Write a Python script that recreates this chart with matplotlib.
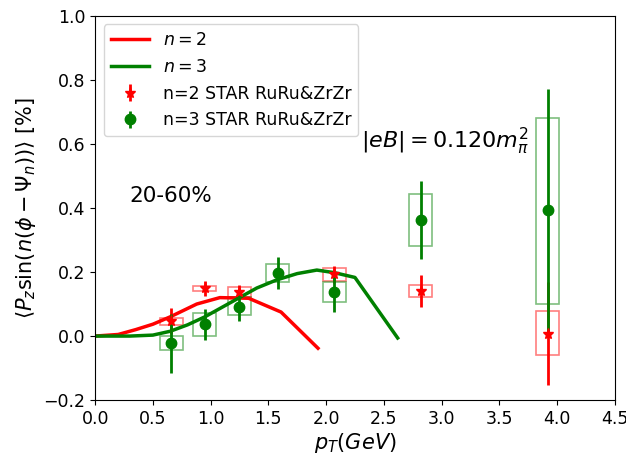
import matplotlib
matplotlib.use("Agg")
import matplotlib.pyplot as plt
from matplotlib.patches import Rectangle

# Model curves
n2_x = [0.0, 0.2, 0.35, 0.5, 0.65, 0.88, 1.08, 1.33, 1.61, 1.93]
n2_y = [0.0, 0.005, 0.02, 0.037, 0.06, 0.10, 0.12, 0.118, 0.075, -0.038]
n3_x = [0.0, 0.3, 0.5, 0.65, 0.8, 0.95, 1.1, 1.25, 1.4, 1.57, 1.75, 1.92, 2.07, 2.25, 2.62]
n3_y = [0.0, 0.0, 0.003, 0.015, 0.035, 0.06, 0.09, 0.12, 0.15, 0.175, 0.195, 0.206, 0.198, 0.183, -0.006]

# STAR data n=2
d2_x = [0.66, 0.95, 1.25, 2.07, 2.82, 3.92]
d2_y = [0.047, 0.149, 0.138, 0.193, 0.141, 0.008]
d2_err = [0.04, 0.023, 0.022, 0.026, 0.051, 0.16]
d2_sys_lo = [0.034, 0.142, 0.123, 0.173, 0.123, -0.060]
d2_sys_hi = [0.056, 0.156, 0.152, 0.212, 0.159, 0.079]

# STAR data n=3
d3_x = [0.66, 0.95, 1.25, 1.58, 2.07, 2.82, 3.92]
d3_y = [-0.023, 0.037, 0.092, 0.198, 0.137, 0.362, 0.392]
d3_err = [0.092, 0.048, 0.044, 0.05, 0.062, 0.121, 0.38]
d3_sys_lo = [-0.044, 0.0, 0.065, 0.170, 0.107, 0.281, 0.099]
d3_sys_hi = [0.001, 0.073, 0.123, 0.225, 0.168, 0.443, 0.68]

box_hw = 0.1

fig = plt.figure(figsize=(6.26, 4.61), dpi=100)
ax = fig.add_axes([0.152, 0.132, 0.830, 0.834])

ax.plot(n2_x, n2_y, color='red', lw=2.5, label=r'$n=2$')
ax.plot(n3_x, n3_y, color='green', lw=2.5, label=r'$n=3$')

for x, lo, hi in zip(d2_x, d2_sys_lo, d2_sys_hi):
    ax.add_patch(Rectangle((x - box_hw, lo), 2 * box_hw, hi - lo, fill=False,
                           edgecolor='red', alpha=0.5, lw=1.2))
for x, lo, hi in zip(d3_x, d3_sys_lo, d3_sys_hi):
    ax.add_patch(Rectangle((x - box_hw, lo), 2 * box_hw, hi - lo, fill=False,
                           edgecolor='green', alpha=0.5, lw=1.2))

ax.errorbar(d2_x, d2_y, yerr=d2_err, fmt='*', color='red', ms=8, elinewidth=2,
            label='n=2 STAR RuRu&ZrZr')
ax.errorbar(d3_x, d3_y, yerr=d3_err, fmt='o', color='green', ms=7.5, elinewidth=2,
            label='n=3 STAR RuRu&ZrZr')

ax.set_xlim(0, 4.5)
ax.set_ylim(-0.2, 1.0)
ax.set_xticks([0.0, 0.5, 1.0, 1.5, 2.0, 2.5, 3.0, 3.5, 4.0, 4.5])
ax.set_yticks([-0.2, 0.0, 0.2, 0.4, 0.6, 0.8, 1.0])
ax.tick_params(labelsize=12.5)

ax.set_xlabel(r'$p_T(GeV)$', fontsize=15, labelpad=2)
ax.set_ylabel(r'$\langle P_z \sin(n(\phi-\Psi_n))\rangle$ [%]', fontsize=15, labelpad=4)

ax.text(0.3, 0.42, '20-60%', fontsize=15.5)
ax.text(2.3, 0.585, r'$|eB|=0.120m_{\pi}^{2}$', fontsize=16)

ax.legend(loc='upper left', fontsize=12.5, handlelength=2.2)

fig.savefig('out.png', dpi=100)
